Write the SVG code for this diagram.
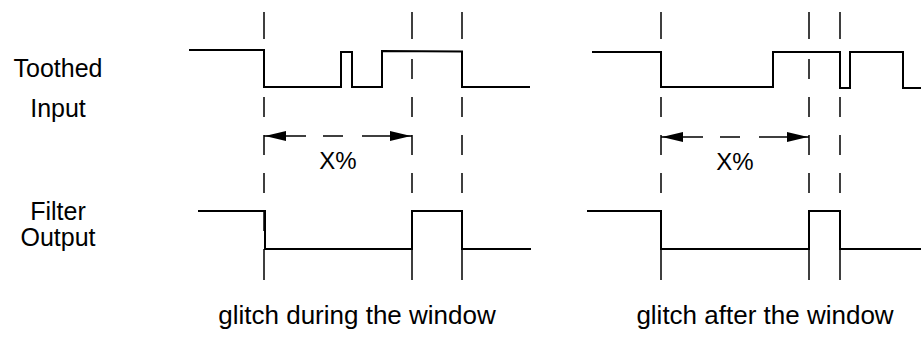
<svg xmlns="http://www.w3.org/2000/svg" width="921" height="341" viewBox="0 0 921 341">
  <style>
    .sig { fill: none; stroke: #000; stroke-width: 2; stroke-linejoin: miter; }
    .guide { fill: none; stroke: #000; stroke-width: 1.5; stroke-dasharray: 27 20 20 18 20 18 20 18 20 18 20 18 31 1000; }
    .shaft { fill: none; stroke: #000; stroke-width: 1.5; stroke-dasharray: 42 17 20 19 50 1000; }
    .head { fill: #000; stroke: none; }
    .lbl { font-family: "Liberation Sans", Arial, sans-serif; font-size: 25px; fill: #000; text-anchor: middle; }
    .cap { font-family: "Liberation Sans", Arial, sans-serif; font-size: 26px; fill: #000; text-anchor: middle; }
  </style>
  <rect width="921" height="341" fill="#fff"/>

  <g id="label-toothed-input">
    <text class="lbl" x="58" y="77">Toothed</text>
    <text class="lbl" x="58" y="117">Input</text>
  </g>
  <g id="label-filter-output">
    <text class="lbl" x="58" y="220">Filter</text>
    <text class="lbl" x="58" y="246">Output</text>
  </g>

  <g id="toothed-during">
    <path class="sig" d="M189,50 H264 V87 H341 V52 H352 V87 H382 V51 L462,51.5 V87 H530"/>
  </g>
  <g id="filter-during">
    <path class="sig" d="M198,211 H265 V249 H412 V211 H462 V249 H531"/>
  </g>
  <g id="toothed-after">
    <path class="sig" d="M592,52 H661 V87 H773 V52 H840 V88 H850 V52 H903 V88 H921"/>
  </g>
  <g id="filter-after">
    <path class="sig" d="M587,211 H661 V249 H809 V211 H840 V249 H921"/>
  </g>

  <g id="connectors">
    <line class="guide" x1="264" y1="12" x2="264" y2="280"/>
    <line class="guide" x1="412" y1="12" x2="412" y2="280"/>
    <line class="guide" x1="462" y1="12" x2="462" y2="280"/>
    <line class="guide" x1="661" y1="12" x2="661" y2="280"/>
    <line class="guide" x1="809" y1="12" x2="809" y2="280"/>
    <line class="guide" x1="840" y1="12" x2="840" y2="280"/>

    <line class="shaft" x1="264" y1="136" x2="412" y2="136"/>
    <polygon class="head" points="265,136 286,131 286,141"/>
    <polygon class="head" points="411,136 390,131 390,141"/>

    <line class="shaft" x1="661" y1="137" x2="809" y2="137"/>
    <polygon class="head" points="662,137 683,132 683,142"/>
    <polygon class="head" points="808,137 787,132 787,142"/>
  </g>

  <g id="label-x-during">
    <text class="lbl" x="338" y="169" style="font-size:24px">X%</text>
  </g>
  <g id="label-x-after">
    <text class="lbl" x="735" y="170" style="font-size:24px">X%</text>
  </g>

  <g id="caption-during">
    <text class="cap" x="357" y="324">glitch during the window</text>
  </g>
  <g id="caption-after">
    <text class="cap" x="765" y="324">glitch after the window</text>
  </g>
</svg>
